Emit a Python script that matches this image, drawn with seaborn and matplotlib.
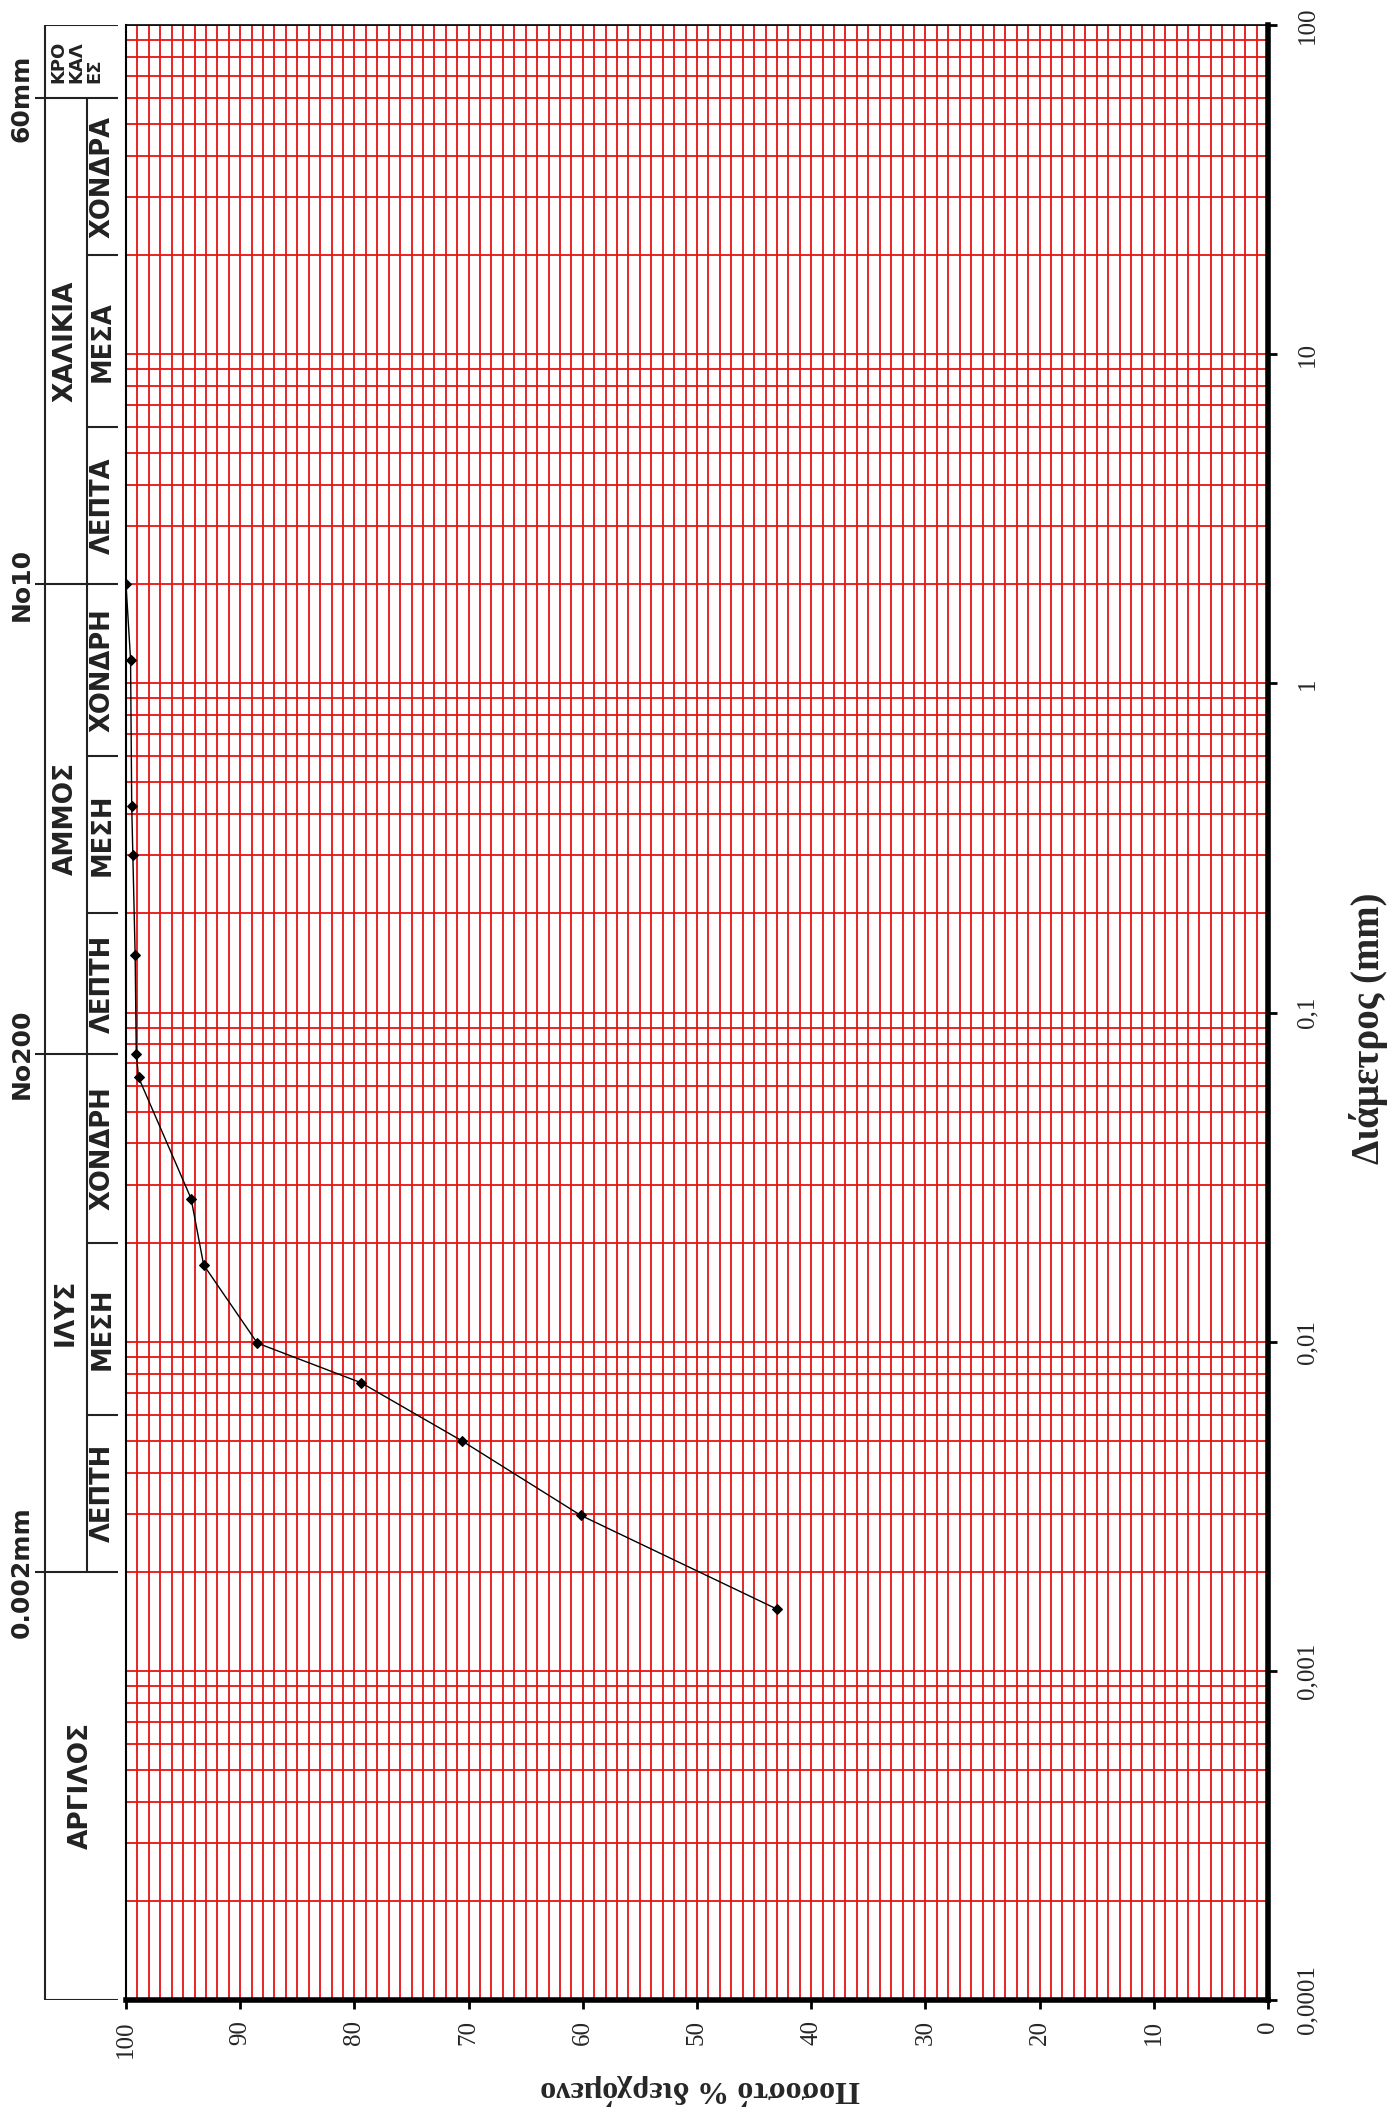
import numpy as np
import pandas as pd
import seaborn as sns
import matplotlib
matplotlib.use("Agg")
import matplotlib.pyplot as plt
from matplotlib.ticker import MultipleLocator, LogLocator, NullFormatter

# grain size analysis: diameter (mm) vs percent passing
diameter = [2.0, 1.18, 0.425, 0.3, 0.15, 0.075, 0.0635, 0.0272, 0.0171,
            0.0099, 0.0075, 0.0050, 0.00297, 0.00154]
passing = [100, 99.6, 99.5, 99.4, 99.2, 99.1, 98.9, 94.3, 93.2,
           88.5, 79.4, 70.6, 60.2, 43.0]

dia_ticks = [0.0001, 0.001, 0.01, 0.1, 1, 10, 100]
dia_labels = ["0,0001", "0,001", "0,01", "0,1", "1", "10", "100"]
pct_ticks = list(range(0, 101, 10))

# classification table
main_bounds = [60, 2, 0.075, 0.002]
main_bound_labels = ["60mm", "No10", "No200", "0.002mm"]
sub_bounds = [20, 6, 0.6, 0.2, 0.02, 0.006]
main_cats = ["ΧΑΛΙΚΙΑ", "ΑΜΜΟΣ", "ΙΛΥΣ"]
main_cat_edges = [60, 2, 0.075, 0.002]
sub_cats = ["ΧΟΝΔΡΑ", "ΜΕΣΑ", "ΛΕΠΤΑ", "ΧΟΝΔΡΗ", "ΜΕΣΗ", "ΛΕΠΤΗ",
            "ΧΟΝΔΡΗ", "ΜΕΣΗ", "ΛΕΠΤΗ"]
sub_cat_edges = [60, 20, 6, 2, 0.6, 0.2, 0.075, 0.02, 0.006, 0.002]

sns.set_style("white")
plt.rcParams["font.family"] = ["Liberation Serif", "DejaVu Serif"]

W, H = 1395, 2121
fig = plt.figure(figsize=(W / 100, H / 100), dpi=100)
left, right, top, bottom = 126, 1268, 25, 2000
ax = fig.add_axes([left / W, 1 - bottom / H, (right - left) / W, (bottom - top) / H])

df = pd.DataFrame({"passing": passing, "diameter": diameter})
sns.lineplot(data=df, x="passing", y="diameter", sort=False, estimator=None,
             orient="y", color="black", lw=1.0, marker="D", markersize=5.5,
             markeredgecolor="black", ax=ax, zorder=5)

ax.set_yscale("log")
ax.set_ylim(0.0001, 100)
ax.set_xlim(100, 0)

ax.set_xticks(pct_ticks)
ax.set_xticklabels([str(t) for t in pct_ticks], rotation=90, fontsize=18)
ax.xaxis.set_minor_locator(MultipleLocator(1))

ax.yaxis.tick_right()
ax.set_yticks(dia_ticks)
ax.set_yticklabels(dia_labels, rotation=90, fontsize=18, va="center")
ax.yaxis.set_minor_locator(LogLocator(base=10, subs=np.arange(2, 10), numticks=50))
ax.yaxis.set_minor_formatter(NullFormatter())

ax.grid(which="both", color="#e81414", lw=1.3)
ax.set_axisbelow(True)
ax.tick_params(axis="x", which="major", direction="out", length=6.5, width=2,
               color="black", bottom=True, top=False, pad=8)
ax.tick_params(axis="y", which="major", direction="out", length=6.5, width=2,
               color="black", right=True, left=False, pad=14)
ax.tick_params(which="minor", length=0)
ax.set_xlabel("")
ax.set_ylabel("")

for side, lw in [("left", 1.5), ("top", 1.2), ("right", 4), ("bottom", 4)]:
    ax.spines[side].set_visible(True)
    ax.spines[side].set_color("black")
    ax.spines[side].set_linewidth(lw)

fig.text(700 / W, 1 - 2090 / H, "Ποσοστό % διερχόμενο", rotation=180,
         ha="center", va="center", fontsize=23, fontweight="bold")
fig.text(1368 / W, 1 - 1028 / H, "Διάμετρος (mm)", rotation=90,
         ha="center", va="center", fontsize=28, fontweight="bold")

# classification table on the left, sharing the diameter scale
axt = fig.add_axes([0, 1 - bottom / H, left / W, (bottom - top) / H], sharey=ax)
axt.set_xlim(0, left)
axt.axis("off")
lc = "#222222"
axt.vlines(45, 0.0001, 100, color=lc, lw=1.5)
axt.hlines([100, 0.0001], 45, 118, color=lc, lw=1.5)
axt.hlines(main_bounds, 35, 118, color=lc, lw=1.5)
axt.vlines(87, 0.002, 60, color=lc, lw=1.5)
axt.hlines(sub_bounds, 87, 118, color=lc, lw=1.5)

sans = ["DejaVu Sans"]
for b, lab in zip(main_bounds, main_bound_labels):
    axt.text(22, b, lab, rotation=90, ha="center", va="center",
             fontsize=18, fontweight="bold", family=sans, color="#222222")
for i, lab in enumerate(main_cats):
    yc = np.sqrt(main_cat_edges[i] * main_cat_edges[i + 1])
    axt.text(66, yc, lab, rotation=90, ha="center", va="center",
             fontsize=19, fontweight="bold", family=sans, color="#222222")
axt.text(81, np.sqrt(0.002 * 0.0001), "ΑΡΓΙΛΟΣ", rotation=90, ha="center",
         va="center", fontsize=19, fontweight="bold", family=sans, color="#222222")
axt.text(76, np.sqrt(100 * 60), "ΚΡΟ\nΚΑΛ\nΕΣ", rotation=90, ha="center",
         va="center", multialignment="left", linespacing=1.0,
         fontsize=13, fontweight="bold", family=sans, color="#222222")
for i, lab in enumerate(sub_cats):
    yc = np.sqrt(sub_cat_edges[i] * sub_cat_edges[i + 1])
    axt.text(103, yc, lab, rotation=90, ha="center", va="center",
             fontsize=18.5, fontweight="bold", family=sans, color="#222222")

fig.savefig("out.png", dpi=100, facecolor="white")
